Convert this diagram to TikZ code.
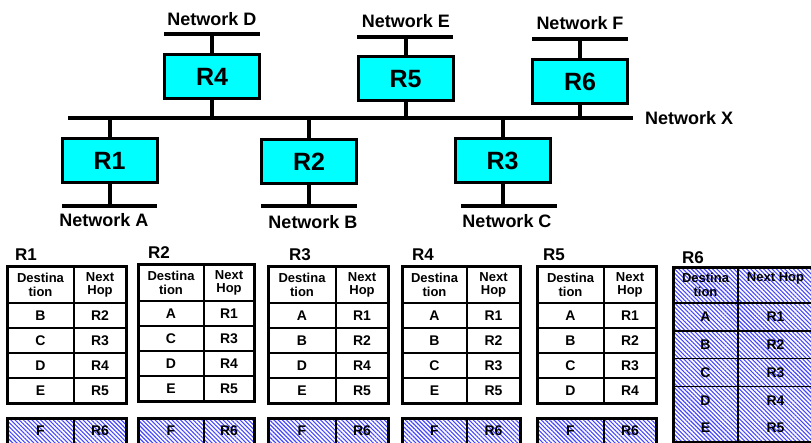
\documentclass[tikz,border=0pt]{standalone}
\usepackage{fontspec}
\setmainfont{Liberation Sans}
\usetikzlibrary{patterns.meta}

\definecolor{hatchblue}{RGB}{70,70,255}
\definecolor{routercyan}{RGB}{0,255,255}

\tikzset{
  router/.style={draw, line width=3pt, fill=routercyan, minimum width=95pt, minimum height=44pt, inner sep=0pt,
    font=\fontsize{25}{25}\selectfont\bfseries},
  wire/.style={line width=4pt},
  netlabel/.style={inner sep=0pt, font=\fontsize{18}{18}\selectfont\bfseries},
  tabtitle/.style={anchor=west, inner sep=0pt, font=\fontsize{17}{17}\selectfont\bfseries},
  tabhead/.style={align=center, inner sep=0pt, font=\fontsize{13}{13.5}\selectfont\bfseries},
  tabentry/.style={inner sep=0pt, font=\fontsize{14}{14}\selectfont\bfseries},
  tabframe/.style={line width=3pt},
  tabgrid/.style={line width=1.5pt},
  hatched/.style={pattern={Lines[angle=-45,distance=3pt,line width=1.1pt]}, pattern color=hatchblue},
}

% routing table: name, title x, left, divider, right, top, rows
\newcommand{\rtable}[7]{
  \node[tabtitle] (#1-title) at (#2,#6-12) {#1};
  \foreach \i in {0,...,3}
    \draw[tabgrid] (#3,#6+36+25*\i) -- (#5,#6+36+25*\i);
  \draw[tabgrid] (#4,#6) -- (#4,#6+136);
  \draw[tabframe] (#3,#6) rectangle (#5,#6+136);
  \node[tabhead] (#1-hd) at ({(#3+#4)/2},#6+18) {Destina\\tion};
  \node[tabhead] (#1-hh) at ({(#4+#5)/2},#6+18) {Next\\Hop};
  \foreach \d/\h [count=\i] in {#7} {
    \node[tabentry] (#1-d\i) at ({(#3+#4)/2},#6+23.5+25*\i) {\d};
    \node[tabentry] (#1-h\i) at ({(#4+#5)/2},#6+23.5+25*\i) {\h};
  }
  % the route to F
  \draw[tabframe, hatched] (#3,418) rectangle (#5,446);
  \draw[tabgrid] (#4,418) -- (#4,446);
  \node[tabentry] (#1-dF) at ({(#3+#4)/2},431) {F};
  \node[tabentry] (#1-hF) at ({(#4+#5)/2},431) {R6};
}

\begin{document}
\begin{tikzpicture}[x=1pt,y=-1pt]
  \useasboundingbox (0,0) rectangle (811,443);
  \clip (0,0) rectangle (811,443);

  % networks
  \coordinate (netD-w) at (164,34);  \coordinate (netD-e) at (260,34);
  \coordinate (netE-w) at (357,37);  \coordinate (netE-e) at (453,37);
  \coordinate (netF-w) at (532,39);  \coordinate (netF-e) at (628,39);
  \coordinate (netX-w) at (68,118);  \coordinate (netX-e) at (633,118);
  \coordinate (netA-w) at (62,206);  \coordinate (netA-e) at (157,206);
  \coordinate (netB-w) at (261,206); \coordinate (netB-e) at (357,206);
  \coordinate (netC-w) at (461,206); \coordinate (netC-e) at (557,206);
  \foreach \n in {D,E,F,X,A,B,C}
    \draw[wire] (net\n-w) -- (net\n-e);

  \node[netlabel] (labD) at (212,19) {Network D};
  \node[netlabel] (labE) at (406,21) {Network E};
  \node[netlabel] (labF) at (580,23) {Network F};
  \node[netlabel, anchor=west] (labX) at (645,118) {Network X};
  \node[netlabel] (labA) at (104,220) {Network A};
  \node[netlabel] (labB) at (313,222) {Network B};
  \node[netlabel] (labC) at (507,221) {Network C};

  % routers
  \node[router] (r4) at (212,76.5) {R4};
  \node[router] (r5) at (405.5,79) {R5};
  \node[router] (r6) at (580,81.5) {R6};
  \node[router] (r1) at (109.5,160.5) {R1};
  \node[router] (r2) at (309,162) {R2};
  \node[router] (r3) at (502.5,160.5) {R3};

  \draw[wire] (r4.north) -- (r4.north |- netD-w);
  \draw[wire] (r5.north) -- (r5.north |- netE-w);
  \draw[wire] (r6.north) -- (r6.north |- netF-w);
  \draw[wire] (r4.south) -- (r4.south |- netX-w);
  \draw[wire] (r5.south) -- (r5.south |- netX-w);
  \draw[wire] (r6.south) -- (r6.south |- netX-w);
  \draw[wire] (r1.north) -- (r1.north |- netX-w);
  \draw[wire] (r2.north) -- (r2.north |- netX-w);
  \draw[wire] (r3.north) -- (r3.north |- netX-w);
  \draw[wire] (r1.south) -- (r1.south |- netA-w);
  \draw[wire] (r2.south) -- (r2.south |- netB-w);
  \draw[wire] (r3.south) -- (r3.south |- netC-w);

  % routing tables
  \rtable{R1}{15}{7}{74}{126}{267}{B/R2,C/R3,D/R4,E/R5}
  \rtable{R2}{148}{138}{204}{254}{265}{A/R1,C/R3,D/R4,E/R5}
  \rtable{R3}{289}{268}{336}{388}{267}{A/R1,B/R2,D/R4,E/R5}
  \rtable{R4}{412}{402}{467}{520}{267}{A/R1,B/R2,C/R3,E/R5}
  \rtable{R5}{543}{537}{604}{656}{267}{A/R1,B/R2,C/R3,D/R4}

  % R6 table, all hatched
  \node[tabtitle] (R6-title) at (682,258) {R6};
  \fill[hatched] (673,268) rectangle (813,442);
  \foreach \i in {0,...,3}
    \draw[tabgrid] (673,303+27.8*\i) -- (813,303+27.8*\i);
  \draw[tabgrid] (738,268) -- (738,442);
  \draw[tabframe] (673,268) rectangle (813,442);
  \node[tabhead] (R6-hd) at (705.5,285) {Destina\\tion};
  \node[tabhead] (R6-hh) at (775.5,278) {Next Hop};
  \foreach \d/\h [count=\i] in {A/R1,B/R2,C/R3,D/R4,E/R5} {
    \node[tabentry] (R6-d\i) at (705.5,289.1+27.8*\i) {\d};
    \node[tabentry] (R6-h\i) at (775.5,289.1+27.8*\i) {\h};
  }
\end{tikzpicture}
\end{document}
